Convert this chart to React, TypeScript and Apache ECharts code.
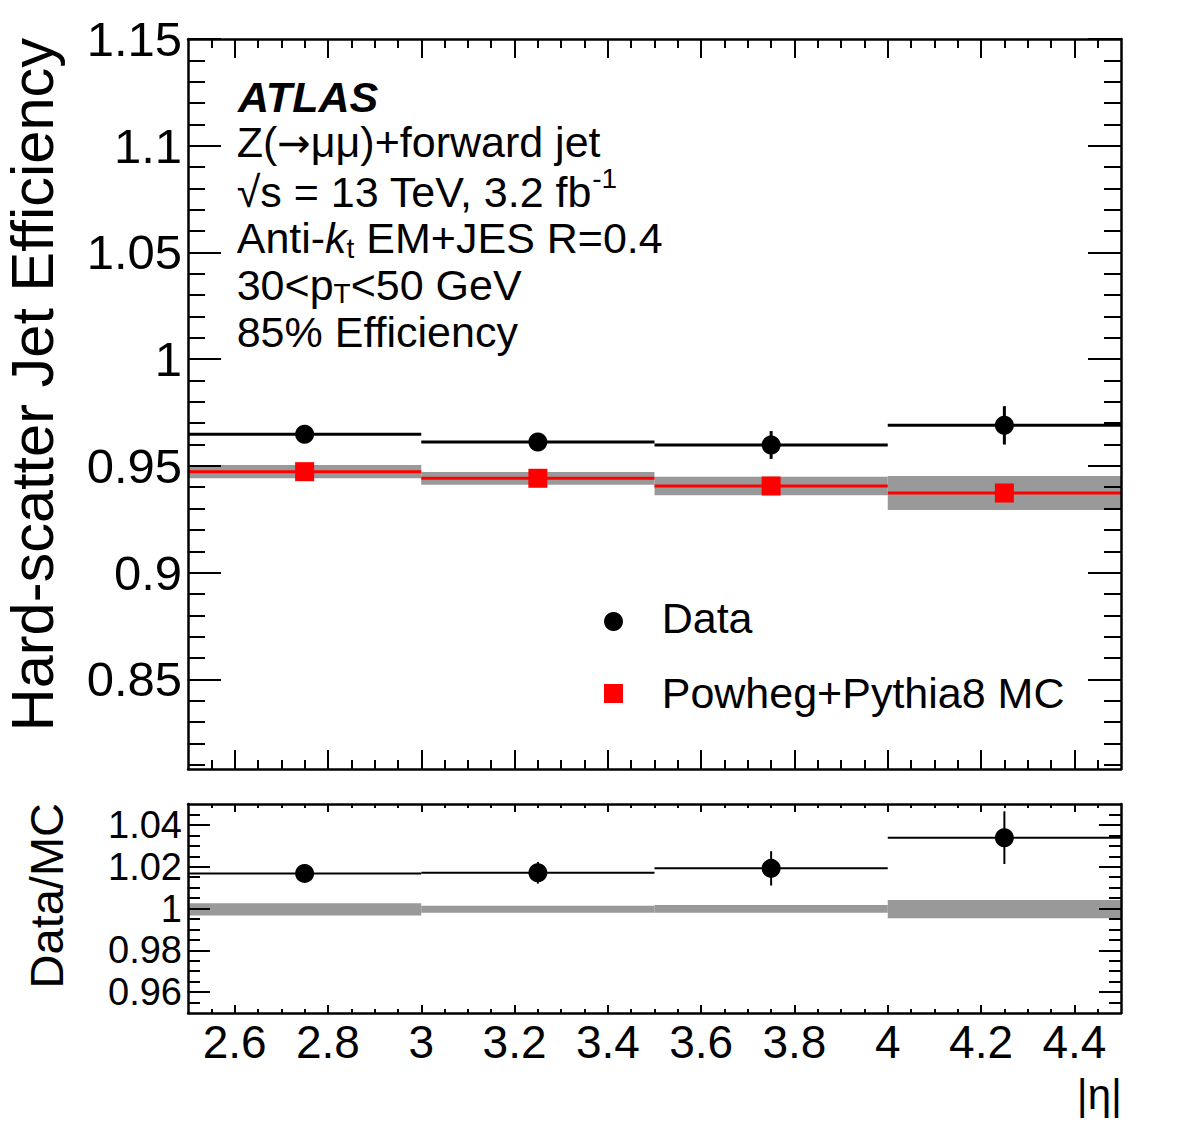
import React, { useEffect, useRef } from "react";
import * as echarts from "echarts";

// ---- data ----
const binEdges = [2.5, 3.0, 3.5, 4.0, 4.5];
const binCenters = [2.75, 3.25, 3.75, 4.25];
const dataEff = [0.9648, 0.9612, 0.9598, 0.969];
const dataErr = [0.003, 0.004, 0.0065, 0.009];
const mcEff = [0.9473, 0.9442, 0.9406, 0.9373];
const mcErr = [0.0031, 0.003, 0.0043, 0.008];
const ratioVal = [1.0168, 1.0171, 1.0192, 1.0339];
const ratioErr = [0.003, 0.0052, 0.0082, 0.0126];
const ratioBandLo = [0.9967, 0.998, 0.998, 0.9953];
const ratioBandHi = [1.0025, 1.0013, 1.0017, 1.0041];

// ---- axes ----
const xRange = [2.5, 4.5];
const yTopRange = [0.808, 1.15];
const yBotRange = [0.95, 1.05];
const xMajorTicks = [2.6, 2.8, 3.0, 3.2, 3.4, 3.6, 3.8, 4.0, 4.2, 4.4];
const yTopMajorTicks = [0.85, 0.9, 0.95, 1.0, 1.05, 1.1, 1.15];
const yBotMajorTicks = [0.96, 0.98, 1.0, 1.02, 1.04];
const yBotLabelsA = [0.96, 1.0, 1.04];
const yBotLabelsB = [0.98, 1.02];

const steps = (a: number, b: number, s: number) => {
  const n = Math.round((b - a) / s);
  return Array.from({ length: n + 1 }, (_, i) => +(a + i * s).toFixed(4));
};
const xMinorTicks = steps(2.55, 4.45, 0.05);
const yTopMinorTicks = steps(0.81, 1.15, 0.01);
const yBotMinorTicks = steps(0.955, 1.045, 0.005);

const FONT = "'Liberation Sans', Arial, Helvetica, sans-serif";
const fmt = (v: number) => String(parseFloat(Number(v).toFixed(3)));

let measureCtx: CanvasRenderingContext2D | null = null;
function measure(text: string, font: string) {
  if (!measureCtx) measureCtx = document.createElement("canvas").getContext("2d");
  measureCtx!.font = font;
  return measureCtx!.measureText(text).width;
}

type Seg = {
  t: string;
  size?: number;
  italic?: boolean;
  bold?: boolean;
  dy?: number;
  family?: string;
};
function textLine(x: number, baseline: number, segs: Seg[]) {
  const out: any[] = [];
  let cx = x;
  for (const s of segs) {
    const size = s.size ?? 43;
    const font = `${s.italic ? "italic " : ""}${s.bold ? "bold " : ""}${size}px ${s.family ?? FONT}`;
    const base = baseline + (s.dy ?? 0);
    const style: any = { text: s.t, font, fill: "#000", align: "left", verticalAlign: "middle" };
    out.push({ type: "text", x: cx, y: base - 0.3465 * size, z: 50, style });
    cx += measure(s.t, font);
  }
  return out;
}

function labelCfg(vals: number[], size: number, lineHeight?: number) {
  return {
    show: true,
    customValues: vals,
    formatter: fmt,
    fontSize: size,
    lineHeight: lineHeight ?? size,
    fontFamily: FONT,
    color: "#000",
    margin: 6,
    hideOverlap: false,
    showMinLabel: true,
    showMaxLabel: true,
  };
}

function xAxisDef(grid: number, pos: string, len: number, vals: number[], frame: boolean, labels: boolean) {
  return {
    type: "value",
    gridIndex: grid,
    position: pos,
    min: xRange[0],
    max: xRange[1],
    z: 10,
    axisLine: { show: frame, onZero: false, lineStyle: { color: "#000", width: 2.5 } },
    axisTick: { show: true, inside: true, length: len, customValues: vals, lineStyle: { color: "#000", width: 2 } },
    axisLabel: labels ? labelCfg(vals, 46) : { show: false },
    splitLine: { show: false },
  };
}
function yAxisDef(
  grid: number,
  pos: string,
  range: number[],
  len: number,
  vals: number[],
  frame: boolean,
  labelVals: number[] | null,
  labelSize = 49
) {
  return {
    type: "value",
    gridIndex: grid,
    position: pos,
    min: range[0],
    max: range[1],
    z: 10,
    axisLine: { show: frame, onZero: false, lineStyle: { color: "#000", width: 2.5 } },
    axisTick: len
      ? { show: true, inside: true, length: len, customValues: vals, lineStyle: { color: "#000", width: 2 } }
      : { show: false },
    axisLabel: labelVals ? labelCfg(labelVals, labelSize) : { show: false },
    splitLine: { show: false },
  };
}

const bandItem = (color: string) => (params: any, api: any) => {
  const p0 = api.coord([api.value(0), api.value(3)]);
  const p1 = api.coord([api.value(1), api.value(2)]);
  return {
    type: "rect",
    shape: { x: p0[0], y: p0[1], width: p1[0] - p0[0], height: p1[1] - p0[1] },
    style: { fill: color },
  };
};
const hLineItem = (color: string, width: number) => (params: any, api: any) => {
  const a = api.coord([api.value(0), api.value(2)]);
  const b = api.coord([api.value(1), api.value(2)]);
  return { type: "line", shape: { x1: a[0], y1: a[1], x2: b[0], y2: b[1] }, style: { stroke: color, lineWidth: width } };
};
const errItem = (width: number, vWidth: number) => (params: any, api: any) => {
  const a = api.coord([api.value(0), api.value(2)]);
  const b = api.coord([api.value(1), api.value(2)]);
  const t = api.coord([api.value(4), api.value(2) + api.value(3)]);
  const u = api.coord([api.value(4), api.value(2) - api.value(3)]);
  return {
    type: "group",
    children: [
      { type: "line", shape: { x1: a[0], y1: a[1], x2: b[0], y2: b[1] }, style: { stroke: "#000", lineWidth: width } },
      { type: "line", shape: { x1: t[0], y1: t[1], x2: u[0], y2: u[1] }, style: { stroke: "#000", lineWidth: vWidth } },
    ],
  };
};

export default function App() {
  const ref = useRef<HTMLDivElement>(null);
  useEffect(() => {
    if (!ref.current) return;
    const chart = echarts.init(ref.current, null, { renderer: "svg" });

    const mcBand = binCenters.map((c, i) => [binEdges[i], binEdges[i + 1], mcEff[i] - mcErr[i], mcEff[i] + mcErr[i]]);
    const mcLine = binCenters.map((c, i) => [binEdges[i], binEdges[i + 1], mcEff[i]]);
    const dataBars = binCenters.map((c, i) => [binEdges[i], binEdges[i + 1], dataEff[i], dataErr[i], c]);
    const ratioBand = binCenters.map((c, i) => [binEdges[i], binEdges[i + 1], ratioBandLo[i], ratioBandHi[i]]);
    const ratioBars = binCenters.map((c, i) => [binEdges[i], binEdges[i + 1], ratioVal[i], ratioErr[i], c]);

    const graphic: any[] = [
      ...textLine(238, 111.5, [{ t: "ATLAS", bold: true, italic: true }]),
      ...textLine(236.7, 156.7, [
        { t: "Z(" },
        { t: "→", family: "'DejaVu Sans', sans-serif", size: 40 },
        { t: "μμ)+forward jet" },
      ]),
      ...textLine(236.7, 206.7, [{ t: "√s = 13 TeV, 3.2 fb" }, { t: "-1", size: 28, dy: -18 }]),
      ...textLine(236.7, 253.3, [
        { t: "Anti-" },
        { t: "k", italic: true },
        { t: "t", size: 28, dy: 5 },
        { t: " EM+JES R=0.4" },
      ]),
      ...textLine(236.7, 300, [{ t: "30<p" }, { t: "T", size: 28, dy: 3 }, { t: "<50 GeV" }]),
      ...textLine(236.7, 346.7, [{ t: "85% Efficiency" }]),
      // legend
      { type: "circle", z: 50, shape: { cx: 613.5, cy: 621.5, r: 9.5 }, style: { fill: "#000" } },
      { type: "rect", z: 50, shape: { x: 604, y: 684, width: 19, height: 19 }, style: { fill: "#ff0000" } },
      ...textLine(661.7, 633, [{ t: "Data" }]),
      ...textLine(661.7, 708, [{ t: "Powheg+Pythia8 MC" }]),
      // axis titles
      {
        type: "text",
        x: 32,
        y: 38,
        rotation: Math.PI / 2,
        z: 50,
        style: { text: "Hard-scatter Jet Efficiency", font: `59.5px ${FONT}`, fill: "#000", align: "right", verticalAlign: "middle" },
      },
      {
        type: "text",
        x: 46,
        y: 803,
        rotation: Math.PI / 2,
        z: 50,
        style: { text: "Data/MC", font: `47px ${FONT}`, fill: "#000", align: "right", verticalAlign: "middle" },
      },
      {
        type: "text",
        x: 1122,
        y: 1109 - 0.3465 * 42,
        z: 50,
        style: { text: "|η|", font: `42px ${FONT}`, fill: "#000", align: "right", verticalAlign: "middle" },
      },
    ];

    chart.setOption({
      animation: false,
      backgroundColor: "#fff",
      grid: [
        { left: 188, top: 39, width: 933, height: 730, containLabel: false },
        { left: 188, top: 804, width: 933, height: 209, containLabel: false },
      ],
      xAxis: [
        xAxisDef(0, "bottom", 19, xMajorTicks, true, false),
        xAxisDef(0, "bottom", 9, xMinorTicks, false, false),
        xAxisDef(0, "top", 19, xMajorTicks, true, false),
        xAxisDef(0, "top", 9, xMinorTicks, false, false),
        xAxisDef(1, "bottom", 8, xMajorTicks, true, true),
        xAxisDef(1, "bottom", 4, xMinorTicks, false, false),
        xAxisDef(1, "top", 8, xMajorTicks, true, false),
        xAxisDef(1, "top", 4, xMinorTicks, false, false),
      ],
      yAxis: [
        yAxisDef(0, "left", yTopRange, 33, yTopMajorTicks, true, yTopMajorTicks, 49),
        yAxisDef(0, "left", yTopRange, 17, yTopMinorTicks, false, null),
        yAxisDef(0, "right", yTopRange, 33, yTopMajorTicks, true, null),
        yAxisDef(0, "right", yTopRange, 17, yTopMinorTicks, false, null),
        yAxisDef(1, "left", yBotRange, 22, yBotMajorTicks, true, yBotLabelsA, 38),
        yAxisDef(1, "left", yBotRange, 12, yBotMinorTicks, false, yBotLabelsB, 38),
        yAxisDef(1, "right", yBotRange, 22, yBotMajorTicks, true, null),
        yAxisDef(1, "right", yBotRange, 12, yBotMinorTicks, false, null),
      ],
      series: [
        {
          name: "MC stat. band",
          type: "custom",
          xAxisIndex: 0,
          yAxisIndex: 0,
          z: 2,
          renderItem: bandItem("#999999"),
          encode: { x: [0, 1], y: [2, 3] },
          data: mcBand,
        },
        {
          name: "MC line",
          type: "custom",
          xAxisIndex: 0,
          yAxisIndex: 0,
          z: 3,
          renderItem: hLineItem("#ff0000", 3),
          encode: { x: [0, 1], y: 2 },
          data: mcLine,
        },
        {
          name: "Powheg+Pythia8 MC",
          type: "scatter",
          xAxisIndex: 0,
          yAxisIndex: 0,
          z: 4,
          symbol: "rect",
          symbolSize: 19,
          itemStyle: { color: "#ff0000", opacity: 1 },
          data: binCenters.map((c, i) => [c, mcEff[i]]),
        },
        {
          name: "Data errors",
          type: "custom",
          xAxisIndex: 0,
          yAxisIndex: 0,
          z: 5,
          renderItem: errItem(3, 3),
          encode: { x: [0, 1], y: 2 },
          data: dataBars,
        },
        {
          name: "Data",
          type: "scatter",
          xAxisIndex: 0,
          yAxisIndex: 0,
          z: 6,
          symbol: "circle",
          symbolSize: 19,
          itemStyle: { color: "#000", opacity: 1 },
          data: binCenters.map((c, i) => [c, dataEff[i]]),
        },
        {
          name: "Ratio band",
          type: "custom",
          xAxisIndex: 4,
          yAxisIndex: 4,
          z: 2,
          renderItem: bandItem("#999999"),
          encode: { x: [0, 1], y: [2, 3] },
          data: ratioBand,
        },
        {
          name: "Ratio errors",
          type: "custom",
          xAxisIndex: 4,
          yAxisIndex: 4,
          z: 5,
          renderItem: errItem(2, 2),
          encode: { x: [0, 1], y: 2 },
          data: ratioBars,
        },
        {
          name: "Data/MC",
          type: "scatter",
          xAxisIndex: 4,
          yAxisIndex: 4,
          z: 6,
          symbol: "circle",
          symbolSize: 19,
          itemStyle: { color: "#000", opacity: 1 },
          data: binCenters.map((c, i) => [c, ratioVal[i]]),
        },
      ],
      graphic,
    });
    return () => chart.dispose();
  }, []);
  return (
    <div
      ref={ref}
      style={{ position: "absolute", left: 0, top: 0, width: 1182, height: 1134, background: "#fff" }}
    />
  );
}
